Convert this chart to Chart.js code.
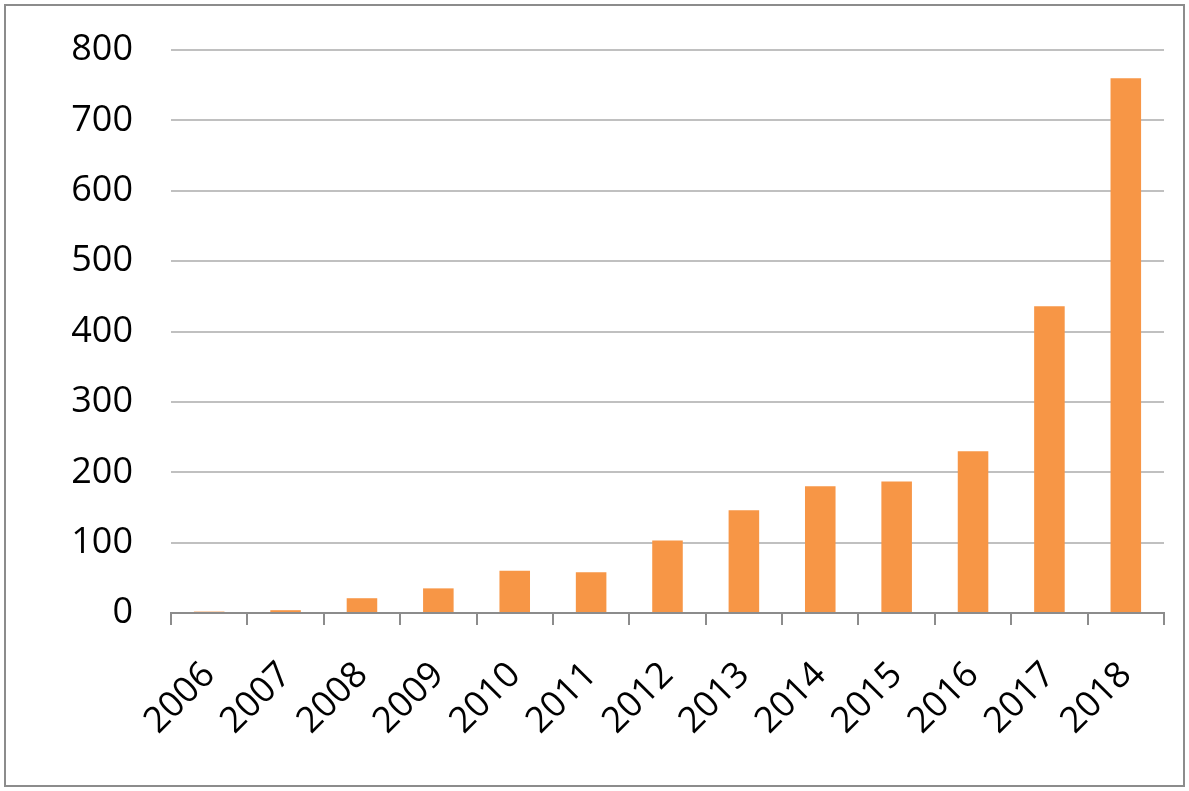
<!DOCTYPE html>
<html>
<head>
<meta charset="utf-8">
<script src="https://cdn.jsdelivr.net/npm/chart.js@4/dist/chart.umd.min.js"></script>
<style>
  html, body { margin: 0; padding: 0; background: #fff; }
  #wrap { position: relative; width: 1189px; height: 791px; }
  #frame { position: absolute; left: 4px; top: 4px; width: 1177px; height: 779px;
           border: 2px solid #8c8c8c; pointer-events: none; }
  canvas { position: absolute; left: 0; top: 0; }
</style>
</head>
<body>
<div id="wrap">
  <canvas id="myChart" width="1189" height="791"></canvas>
  <div id="frame"></div>
</div>
<script>
var years = ['2006', '2007', '2008', '2009', '2010', '2011', '2012', '2013', '2014', '2015', '2016', '2017', '2018'];
var counts = [2, 4, 21, 35, 60, 58, 103, 146, 180, 187, 230, 436, 760];
var yMax = 800;
var yStep = 100;

var ctx = document.getElementById('myChart').getContext('2d');
var chart = new Chart(ctx, {
    type: 'bar',
    data: {
        labels: years,
        datasets: [{
            label: 'Count',
            backgroundColor: '#f79646',
            borderColor: '#f79646',
            data: counts,
            barPercentage: 0.4,
            categoryPercentage: 1.0
        }]
    },
    options: {
        responsive: false,
        animation: false,
        layout: { padding: { top: 50, right: 25, left: 0, bottom: 0 } },
        plugins: { legend: { display: false }, tooltip: { enabled: false } },
        scales: {
            x: {
                offset: true,
                grid: { offset: true, drawOnChartArea: false, color: '#8c8c8c', lineWidth: 2, tickLength: 12 },
                border: { display: true, color: '#8c8c8c', width: 2 },
                ticks: {
                    color: '#000', padding: 29, minRotation: 45, maxRotation: 45,
                    font: { family: 'Open Sans', size: 36 }
                },
                afterFit: function(s) { s.height = 791 - 613; s.paddingLeft = 0; s.paddingRight = 0; }
            },
            y: {
                min: 0, max: yMax,
                grid: { color: '#c0c0c0', lineWidth: 2, drawTicks: false },
                border: { display: false },
                ticks: {
                    stepSize: yStep, color: '#000', padding: 38,
                    font: { family: 'Open Sans', size: 36 }
                },
                afterFit: function(s) { s.width = 171; s.paddingTop = 0; s.paddingBottom = 0; }
            }
        }
    }
});
</script>
</body>
</html>
